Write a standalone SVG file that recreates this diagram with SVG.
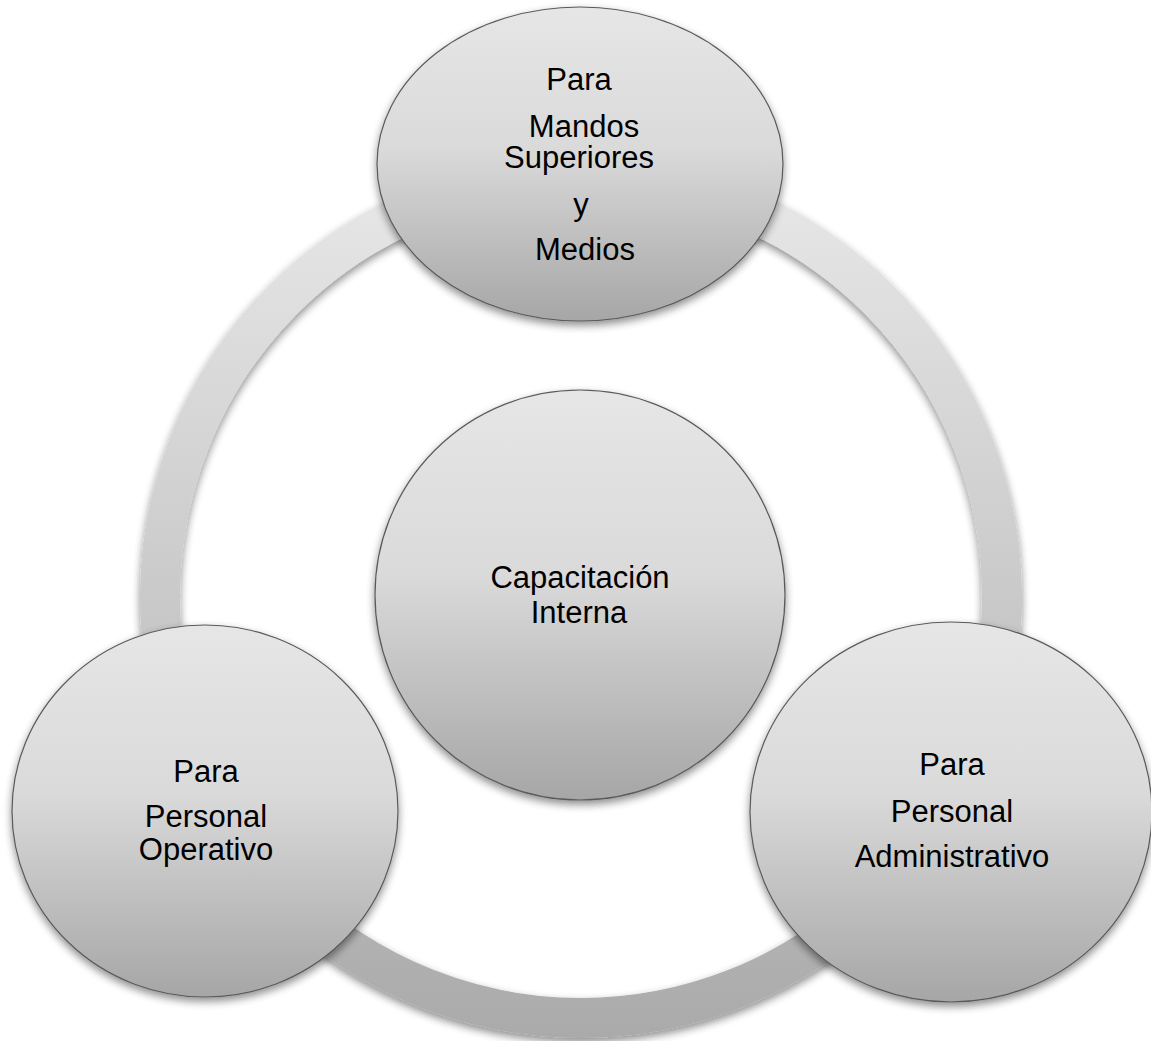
<svg xmlns="http://www.w3.org/2000/svg" width="1151" height="1041" viewBox="0 0 1151 1041">
  <defs>
    <linearGradient id="ringGrad" gradientUnits="userSpaceOnUse" x1="0" y1="156" x2="0" y2="1038">
      <stop offset="0" stop-color="#e9e9e9"/>
      <stop offset="1" stop-color="#aaaaaa"/>
    </linearGradient>
    <linearGradient id="nodeGrad" x1="0" y1="0" x2="0" y2="1">
      <stop offset="0" stop-color="#e6e6e6"/>
      <stop offset="0.45" stop-color="#dadada"/>
      <stop offset="1" stop-color="#a6a6a6"/>
    </linearGradient>
    <filter id="shadow" x="-20%" y="-20%" width="140%" height="140%">
      <feGaussianBlur in="SourceAlpha" stdDeviation="4"/>
      <feOffset dx="0" dy="4" result="b"/>
      <feComponentTransfer><feFuncA type="linear" slope="0.45"/></feComponentTransfer>
      <feMerge><feMergeNode/><feMergeNode in="SourceGraphic"/></feMerge>
    </filter>
  </defs>
  <style>
    .node { fill: url(#nodeGrad); stroke: #5a5a5a; stroke-width: 1.2; filter: url(#shadow); }
    .lbl { font-family: "Liberation Sans", Arial, sans-serif; font-size: 31px; fill: #000; text-anchor: middle; }
  </style>
  <rect width="1151" height="1041" fill="#ffffff"/>
  <g id="connectors">
    <circle cx="581" cy="597" r="421" fill="none" stroke="url(#ringGrad)" stroke-width="40" filter="url(#shadow)"/>
  </g>
  <g id="node-center">
    <circle class="node" cx="580" cy="595" r="205"/>
    <text class="lbl" x="580" y="588">Capacitación</text>
    <text class="lbl" x="579" y="623">Interna</text>
  </g>
  <g id="node-top">
    <ellipse class="node" cx="580" cy="164" rx="203" ry="157"/>
    <text class="lbl" x="579" y="90">Para</text>
    <text class="lbl" x="584" y="137">Mandos</text>
    <text class="lbl" x="579" y="168">Superiores</text>
    <text class="lbl" x="581" y="215">y</text>
    <text class="lbl" x="585" y="260">Medios</text>
  </g>
  <g id="node-left">
    <ellipse class="node" cx="205" cy="811" rx="193" ry="186"/>
    <text class="lbl" x="206" y="782">Para</text>
    <text class="lbl" x="206" y="827">Personal</text>
    <text class="lbl" x="206" y="860">Operativo</text>
  </g>
  <g id="node-right">
    <ellipse class="node" cx="951" cy="812" rx="201" ry="190"/>
    <text class="lbl" x="952" y="775">Para</text>
    <text class="lbl" x="952" y="822">Personal</text>
    <text class="lbl" x="952" y="867">Administrativo</text>
  </g>
</svg>
